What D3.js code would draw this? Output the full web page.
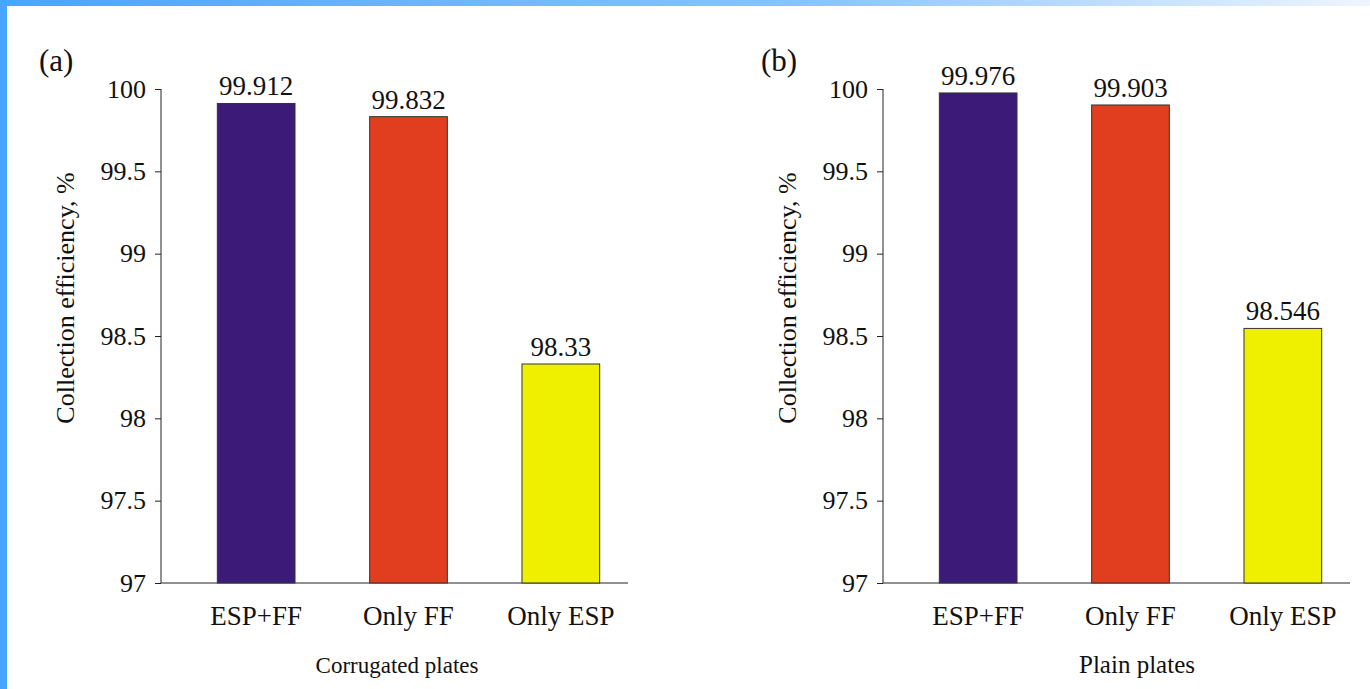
<!DOCTYPE html>
<html>
<head>
<meta charset="utf-8">
<script src="https://cdn.jsdelivr.net/npm/d3@7"></script>
<style>
  body { margin: 0; background: #fff; }
</style>
</head>
<body>
<div id="chart"></div>
<script>
// data
var categories = ["ESP+FF", "Only FF", "Only ESP"];
var corrugatedValues = [99.912, 99.832, 98.33];
var corrugatedLabels = ["99.912", "99.832", "98.33"];
var plainValues = [99.976, 99.903, 98.546];
var plainLabels = ["99.976", "99.903", "98.546"];
var yTicks = [97, 97.5, 98, 98.5, 99, 99.5, 100];
var barColors = ["#3b1a78", "#e03e1f", "#eef000"];

var serif = "'Liberation Serif', 'Times New Roman', serif";

var panels = [
    { tag: "(a)", title: "Corrugated plates", values: corrugatedValues, labels: corrugatedLabels, dx: 0, titleX: 397, titleSize: 23 },
    { tag: "(b)", title: "Plain plates", values: plainValues, labels: plainLabels, dx: 722, titleX: 415, titleSize: 25 }
];

var width = 1370, height = 689;

var svg = d3.select("#chart")
    .append("svg")
    .attr("width", width)
    .attr("height", height)
    .style("font-family", serif);

// blue frame on the top and left
var grad = svg.append("defs").append("linearGradient")
    .attr("id", "topfade")
    .attr("x1", "0%").attr("x2", "100%");
grad.append("stop").attr("offset", "0%").attr("stop-color", "#46a6ff");
grad.append("stop").attr("offset", "60%").attr("stop-color", "#8cc4ff");
grad.append("stop").attr("offset", "100%").attr("stop-color", "#eef5ff");
svg.append("rect").attr("x", 0).attr("y", 0).attr("width", width).attr("height", 6).attr("fill", "url(#topfade)");
svg.append("rect").attr("x", 0).attr("y", 0).attr("width", 7).attr("height", height).attr("fill", "#46a6ff");

var y = d3.scaleLinear().domain([97, 100]).range([583, 89]);

panels.forEach(function(p) {
    var g = svg.append("g").attr("transform", "translate(" + p.dx + ",0)");

    var x = d3.scaleBand()
        .domain(categories)
        .range([180, 637])
        .paddingInner(0.49)
        .paddingOuter(0.245);

    // y axis
    var yAxis = d3.axisLeft(y)
        .tickValues(yTicks)
        .tickSize(6)
        .tickPadding(9)
        .tickFormat(function(d) { return d3.format("")(d); });
    var ya = g.append("g").attr("transform", "translate(161,0)").call(yAxis);
    ya.attr("font-family", null).attr("font-size", null);
    ya.select(".domain").remove();
    ya.selectAll("line").attr("stroke", "#222");
    ya.selectAll("text").attr("font-size", 26).attr("fill", "#111");

    g.append("line")
        .attr("x1", 161).attr("x2", 161)
        .attr("y1", y(100)).attr("y2", y(97))
        .attr("stroke", "#222");
    g.append("line")
        .attr("x1", 161).attr("x2", 628)
        .attr("y1", y(97)).attr("y2", y(97))
        .attr("stroke", "#222");

    // bars
    g.selectAll("rect.bar")
        .data(p.values)
        .join("rect")
        .attr("class", "bar")
        .attr("x", function(d, i) { return x(categories[i]); })
        .attr("y", function(d) { return y(d); })
        .attr("width", x.bandwidth())
        .attr("height", function(d) { return y(97) - y(d); })
        .attr("fill", function(d, i) { return barColors[i]; })
        .attr("stroke", "#333")
        .attr("stroke-width", 1);

    // value labels
    g.selectAll("text.val")
        .data(p.values)
        .join("text")
        .attr("class", "val")
        .attr("x", function(d, i) { return x(categories[i]) + x.bandwidth() / 2; })
        .attr("y", function(d) { return y(d) - 8; })
        .attr("text-anchor", "middle")
        .attr("font-size", 27)
        .attr("fill", "#111")
        .text(function(d, i) { return p.labels[i]; });

    // category labels
    g.selectAll("text.cat")
        .data(categories)
        .join("text")
        .attr("class", "cat")
        .attr("x", function(d) { return x(d) + x.bandwidth() / 2; })
        .attr("y", 625)
        .attr("text-anchor", "middle")
        .attr("font-size", 27)
        .attr("fill", "#111")
        .text(function(d) { return d; });

    // x title
    g.append("text")
        .attr("x", p.titleX)
        .attr("y", 673)
        .attr("text-anchor", "middle")
        .attr("font-size", p.titleSize)
        .attr("fill", "#111")
        .text(p.title);

    // y title
    g.append("text")
        .attr("transform", "translate(74,298) rotate(-90)")
        .attr("text-anchor", "middle")
        .attr("font-size", 26)
        .attr("fill", "#111")
        .text("Collection efficiency, %");

    // panel tag
    g.append("text")
        .attr("x", 39)
        .attr("y", 71)
        .attr("font-size", 31)
        .attr("fill", "#111")
        .text(p.tag);
});

svg.selectAll("text").style("font-family", serif);
</script>
</body>
</html>
